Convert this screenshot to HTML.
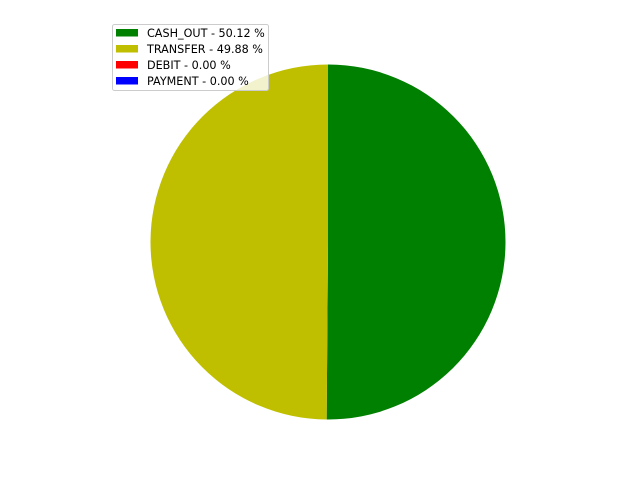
<!DOCTYPE html>
<html><head><meta charset="utf-8"><style>
html,body{margin:0;padding:0;background:#fff;}
svg{display:block;font-family:"DejaVu Sans","Liberation Sans",sans-serif;}
</style></head><body>
<svg id="chart" width="640" height="480"></svg>
<script>
const categories = ["CASH_OUT", "TRANSFER", "DEBIT", "PAYMENT"];
const values = [50.12, 49.88, 0.0, 0.0];
const colors = ["#008000", "#bfbf00", "#ff0000", "#0000ff"];
const NS = "http://www.w3.org/2000/svg";
const svg = document.getElementById("chart");
const cx = 328, cy = 242, r = 177.5;
const total = values.reduce((a, b) => a + b, 0);
let ang = -Math.PI / 2;
values.forEach((v, i) => {
  if (v <= 0) return;
  const a2 = ang + (v / total) * 2 * Math.PI;
  const x1 = cx + r * Math.cos(ang), y1 = cy + r * Math.sin(ang);
  const x2 = cx + r * Math.cos(a2), y2 = cy + r * Math.sin(a2);
  const large = (a2 - ang) > Math.PI ? 1 : 0;
  const p = document.createElementNS(NS, "path");
  p.setAttribute("d", `M${cx},${cy} L${x1},${y1} A${r},${r} 0 ${large} 1 ${x2},${y2} Z`);
  p.setAttribute("fill", colors[i]);
  
  
  svg.appendChild(p);
  ang = a2;
});
const lg = document.createElementNS(NS, "g");


svg.appendChild(lg);
const box = document.createElementNS(NS, "rect");
box.setAttribute("x", 112.5); box.setAttribute("y", 24.5);
box.setAttribute("width", 156); box.setAttribute("height", 66);
box.setAttribute("rx", 2);
box.setAttribute("fill", "rgba(255,255,255,0.8)"); box.setAttribute("stroke", "#cccccc");
lg.appendChild(box);
categories.forEach((c, i) => {
  const y = 33 + i * 16;
  const g = document.createElementNS(NS, "g");
  
  
  const rc = document.createElementNS(NS, "rect");
  rc.setAttribute("x", 116); rc.setAttribute("y", y - 4);
  rc.setAttribute("width", 22); rc.setAttribute("height", 7.5);
  rc.setAttribute("fill", colors[i]);
  g.appendChild(rc);
  const t = document.createElementNS(NS, "text");
  t.setAttribute("x", 147); t.setAttribute("y", y + 4);
  t.setAttribute("font-size", "11.2");
  t.setAttribute("fill", "#000");
  t.textContent = c + " - " + (values[i] / total * 100).toFixed(2) + " %";
  g.appendChild(t);
  lg.appendChild(g);
});
</script>
</body></html>
